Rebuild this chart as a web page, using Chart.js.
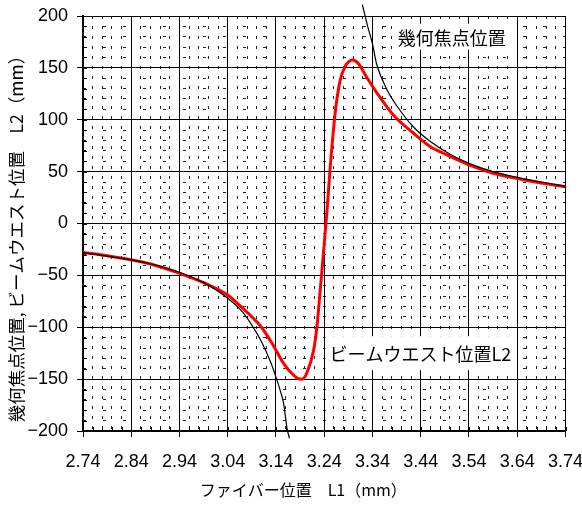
<!DOCTYPE html>
<html><head><meta charset="utf-8">
<script src="https://cdn.jsdelivr.net/npm/chart.js@4.4.1/dist/chart.umd.min.js"></script>
<style>html,body{margin:0;padding:0;background:#fff}#wrap{width:582px;height:512px;position:relative}</style>
</head><body><div id="wrap"><canvas id="c" width="582" height="512"></canvas></div>
<script>
// ---- data ----
const xTickLabels = ['2.74','2.84','2.94','3.04','3.14','3.24','3.34','3.44','3.54','3.64','3.74'];
const yTickLabels = ['-200','-150','-100','-50','0','50','100','150','200'];

const focusLeftX = [2.74, 2.79, 2.84, 2.89, 2.94, 2.99, 3.04, 3.07, 3.09, 3.11, 3.13, 3.142, 3.15, 3.156, 3.163, 3.168];
const focusLeftY = [-28, -31.5, -35, -40, -47, -57, -72, -85, -98, -114, -135, -151, -163, -174, -198, -207];

const focusRightX = [3.319, 3.33, 3.339, 3.349, 3.37, 3.391, 3.425, 3.46, 3.5, 3.54, 3.59, 3.64, 3.69, 3.74];
const focusRightY = [211, 190, 175, 153, 129, 113, 93, 79, 67, 58, 50, 44.5, 40, 36];

const waistX = [2.74, 2.79, 2.84, 2.88, 2.94, 2.99, 3.04, 3.06, 3.09, 3.11, 3.135, 3.156, 3.176, 3.186, 3.194, 3.204, 3.218, 3.225, 3.232, 3.239, 3.246, 3.252, 3.263, 3.273, 3.284, 3.291, 3.298, 3.305, 3.311, 3.328, 3.349, 3.384, 3.425, 3.46, 3.49, 3.54, 3.59, 3.65, 3.69, 3.74];
const waistY = [-28, -31, -35, -39, -48, -57, -69, -77, -90, -100, -118, -135, -146, -149.5, -150, -144, -122, -99, -62, -25, 14, 52, 108, 138, 152, 156, 157.5, 156.5, 154, 141, 126, 104, 87, 74, 67, 56.5, 48.5, 42.5, 39, 35.5];

const xTitle = 'ファイバー位置　L1（mm）';
const yTitle = '幾何焦点位置, ビームウエスト位置　L2（mm）';
const labelFocus = '幾何焦点位置';
const labelWaist = 'ビームウエスト位置L2';

// ---- build ----
const toPts = (xs, ys) => xs.map((x, i) => ({x: x, y: ys[i]}));
const cjk = "'Noto Sans CJK JP', 'Noto Sans', sans-serif";
const num = "'Liberation Sans', Arial, sans-serif";

const notes = [
  {text: labelFocus, x: 3.5045, y: 180, w: 118, h: 26},
  {text: labelWaist, x: 3.439, y: -125, w: 190, h: 34}
];

const textPlugin = {
  id: 'texts',
  afterDatasetsDraw(chart) {
    const ctx = chart.ctx, xs = chart.scales.x, ys = chart.scales.y, a = chart.chartArea;
    ctx.save();
    notes.forEach(n => {
      const cx = xs.getPixelForValue(n.x), cy = ys.getPixelForValue(n.y);
      ctx.fillStyle = '#fff';
      ctx.fillRect(cx - n.w / 2, cy - n.h / 2, n.w, n.h);
      ctx.fillStyle = '#000';
      ctx.font = '18px ' + cjk;
      ctx.textAlign = 'center';
      ctx.textBaseline = 'middle';
      ctx.fillText(n.text, cx, cy + 1);
    });
    // axis titles
    ctx.fillStyle = '#000';
    ctx.textAlign = 'center';
    ctx.textBaseline = 'middle';
    ctx.font = '16px ' + cjk;
    ctx.fillText(xTitle, (a.left + a.right) / 2 - 21, chart.height - 22);
    ctx.translate(16.5, (a.top + a.bottom) / 2 + 11);
    ctx.rotate(-Math.PI / 2);
    ctx.font = '17.5px ' + cjk;
    ctx.fillText(yTitle, 0, 0);
    ctx.restore();
  }
};

const minorTickPlugin = {
  id: 'minorTicks',
  beforeDatasetsDraw(chart) {
    const ctx = chart.ctx, a = chart.chartArea;
    const x2 = chart.scales.x2, y2 = chart.scales.y2;
    ctx.save();
    ctx.strokeStyle = '#000';
    ctx.lineWidth = 1;
    ctx.beginPath();
    x2.ticks.forEach(t => {
      const px = Math.round(x2.getPixelForValue(t.value)) + 0.5;
      ctx.moveTo(px, a.bottom); ctx.lineTo(px, a.bottom - 4);
    });
    y2.ticks.forEach(t => {
      const py = Math.round(y2.getPixelForValue(t.value)) + 0.5;
      ctx.moveTo(a.left, py); ctx.lineTo(a.left + 4, py);
    });
    ctx.stroke();
    ctx.restore();
  }
};

new Chart(document.getElementById('c'), {
  type: 'scatter',
  data: {
    datasets: [
      {data: toPts(focusLeftX, focusLeftY), showLine: true, borderColor: '#000', borderWidth: 1.2, pointRadius: 0, cubicInterpolationMode: 'monotone', clip: {left: 0, right: 0, top: 12, bottom: 8}},
      {data: toPts(focusRightX, focusRightY), showLine: true, borderColor: '#000', borderWidth: 1.2, pointRadius: 0, cubicInterpolationMode: 'monotone', clip: {left: 0, right: 0, top: 12, bottom: 8}},
      {data: toPts(waistX, waistY), showLine: true, borderColor: '#ff0000', borderWidth: 3, pointRadius: 0, cubicInterpolationMode: 'monotone'}
    ]
  },
  options: {
    responsive: false,
    animation: false,
    devicePixelRatio: 1,
    layout: {padding: {top: 16, right: 0, left: 0, bottom: 0}},
    plugins: {legend: {display: false}, tooltip: {enabled: false}},
    scales: {
      x2: {
        type: 'linear', position: 'bottom', min: 2.74, max: 3.74,
        ticks: {stepSize: 0.02, display: false, autoSkip: false},
        grid: {drawTicks: false, color: '#222', lineWidth: 1},
        border: {display: false, dash: [3, 7]},
        afterFit: s => { s.height = 0; s.paddingLeft = 0; s.paddingRight = 0; }
      },
      y2: {
        type: 'linear', position: 'left', min: -200, max: 200,
        ticks: {stepSize: 10, display: false, autoSkip: false},
        grid: {drawTicks: false, color: '#222', lineWidth: 1},
        border: {display: false, dash: [3, 17]},
        afterFit: s => { s.width = 0; s.paddingTop = 0; s.paddingBottom = 0; }
      },
      x: {
        type: 'linear', position: 'bottom', min: 2.74, max: 3.74,
        ticks: {stepSize: 0.1, autoSkip: false, maxRotation: 0, color: '#000', padding: 14, font: {family: num, size: 18},
          callback: (v, i) => xTickLabels[i]},
        grid: {color: '#000', lineWidth: 1, drawTicks: true, tickLength: 6, tickColor: '#000'},
        border: {display: true, color: '#000', width: 2},
        afterFit: s => { s.height = 81; s.paddingLeft = 0; s.paddingRight = 16.5; }
      },
      y: {
        type: 'linear', position: 'left', min: -200, max: 200,
        ticks: {stepSize: 50, autoSkip: false, color: '#000', padding: 9, font: {family: num, size: 18},
          callback: (v, i) => yTickLabels[i].replace('-', '\u2212')},
        grid: {color: '#000', lineWidth: 1, drawTicks: true, tickLength: 6, tickColor: '#000'},
        border: {display: true, color: '#000', width: 2},
        afterFit: s => { s.width = 83; s.paddingTop = 0; s.paddingBottom = 0; }
      }
    }
  },
  plugins: [minorTickPlugin, textPlugin]
});
</script></body></html>
